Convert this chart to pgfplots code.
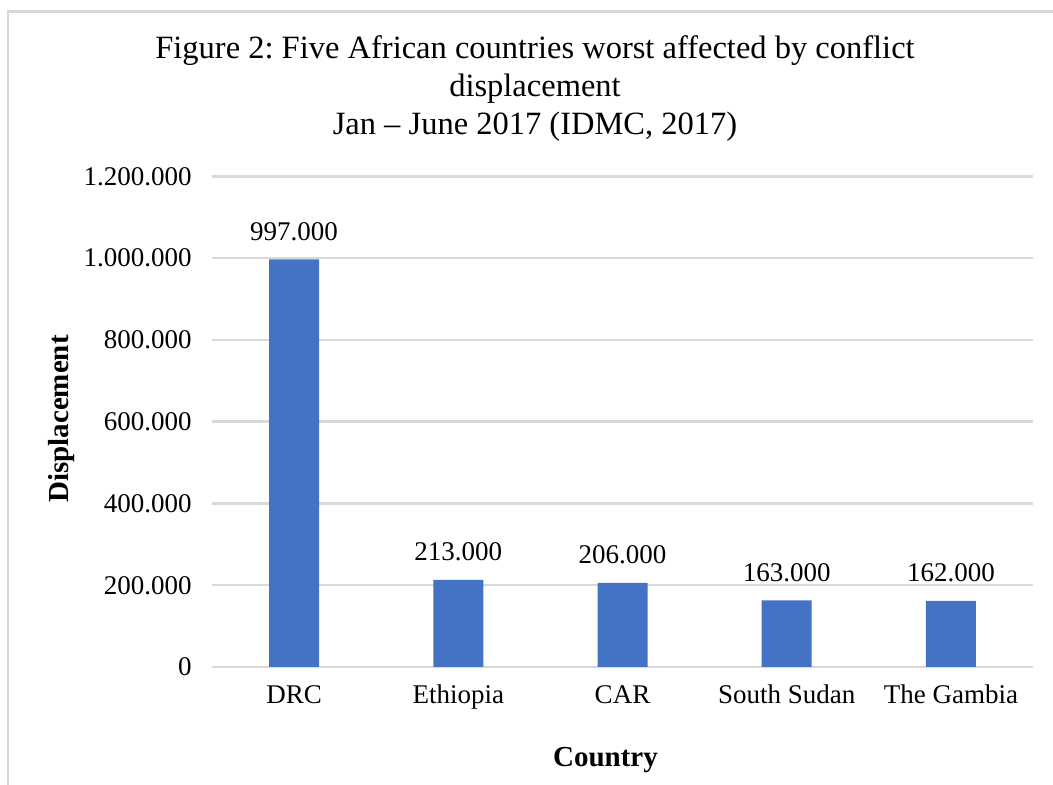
\documentclass[border=0pt]{standalone}
\usepackage{fontspec}
\setmainfont{Liberation Serif}
\usepackage{pgfplots}
\pgfplotsset{compat=1.18}
\definecolor{barblue}{HTML}{4472C4}
\definecolor{gridgray}{HTML}{D9D9D9}

\newcommand{\tickfont}{\fontsize{13.5}{16}\selectfont}
\newcommand{\labelfont}{\bfseries\fontsize{14.5}{17}\selectfont}
\newcommand{\titlefont}{\fontsize{16.25}{19.5}\selectfont}

\begin{document}
\frenchspacing
\begin{tikzpicture}
\useasboundingbox (0,0) rectangle (526.5pt,392.5pt);
% chart frame
\draw[gridgray, line width=1.3pt] (4pt,-2pt) -- (4pt,386.75pt) -- (530pt,386.75pt);

\begin{axis}[
  at={(106pt,59pt)}, anchor=south west,
  scale only axis, width=410.5pt, height=245.3pt,
  xmin=-0.5, xmax=4.5, ymin=0, ymax=1200000,
  xtick={0,1,2,3,4},
  xticklabels={DRC,Ethiopia,CAR,South Sudan,The Gambia},
  ytick={0,200000,400000,600000,800000,1000000,1200000},
  scaled y ticks=false,
  /pgf/number format/fixed,
  /pgf/number format/precision=0,
  /pgf/number format/1000 sep={.},
  /pgf/number format/assume math mode=true,
  axis line style={draw=none},
  major tick length=0pt,
  tick style={draw=none},
  ymajorgrids,
  major grid style={gridgray, line width=1.2pt},
  yticklabel style={anchor=east, inner sep=0pt, xshift=-10pt, font=\tickfont},
  xticklabel style={anchor=base, inner sep=0pt, yshift=-18.5pt, font=\tickfont},
  ybar, bar width=25pt,
  nodes near coords,
  every node near coord/.append style={anchor=base, inner sep=0pt, yshift=9.5pt, font=\tickfont},
]
\addplot[fill=barblue, draw=none] coordinates {
  (0,997000) (1,213000) (2,206000) (3,163000) (4,162000)
};
\end{axis}

% title
\node[anchor=base, font=\titlefont] at (267.5pt,363pt) {Figure 2: Five African countries worst affected by conflict};
\node[anchor=base, font=\titlefont] at (267.5pt,344pt) {displacement};
\node[anchor=base, font=\titlefont] at (267.5pt,325pt) {Jan -- June 2017 (IDMC, 2017)};

% axis titles
\node[anchor=base, font=\labelfont] at (302.75pt,9pt) {Country};
\node[anchor=base, rotate=90, font=\labelfont] at (34pt,183pt) {Displacement};
\end{tikzpicture}
\end{document}
